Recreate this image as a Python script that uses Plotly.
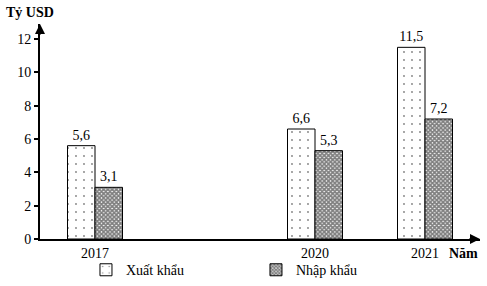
import plotly.graph_objects as go

years = ["2017", "2020", "2021"]
axis_slots = ["2017", " ", "2020", "2021"]  # blank slot between 2017 and 2020, as in the reference
export_vals = [5.6, 6.6, 11.5]
import_vals = [3.1, 5.3, 7.2]
series_names = ["Xuất khẩu", "Nhập khẩu"]
y_ticks = [0, 2, 4, 6, 8, 10, 12]

FONT = "Times New Roman, Liberation Serif, serif"

def fmt(v):
    return f"{v:.1f}".replace(".", ",")

fig = go.Figure()
fig.add_trace(go.Bar(
    x=years, y=export_vals, name=series_names[0],
    text=[fmt(v) for v in export_vals], textposition="outside",
    textfont=dict(family=FONT, size=14, color="black"),
    marker=dict(color="white", line=dict(color="black", width=1),
                pattern=dict(shape=".", fgcolor="black", bgcolor="white", size=8, solidity=0.04)),
    cliponaxis=False,
))
fig.add_trace(go.Bar(
    x=years, y=import_vals, name=series_names[1],
    text=[fmt(v) for v in import_vals], textposition="outside",
    textfont=dict(family=FONT, size=14, color="black"),
    marker=dict(color="white", line=dict(color="black", width=1),
                pattern=dict(shape="x", fgcolor="black", bgcolor="white", size=3, solidity=0.8)),
    cliponaxis=False,
))

fig.update_layout(
    width=487, height=286,
    margin=dict(l=40, r=7, t=24, b=47, autoexpand=False),
    paper_bgcolor="white", plot_bgcolor="white",
    barmode="group", bargap=0.5, bargroupgap=0,
    font=dict(family=FONT, size=14, color="black"),
    showlegend=True,
    legend=dict(orientation="h", x=0.1045, xanchor="left", y=-0.145, yanchor="middle",
                font=dict(family=FONT, size=14, color="black"),
                itemwidth=30, entrywidth=125, entrywidthmode="pixels",
                bgcolor="rgba(0,0,0,0)", traceorder="normal"),
    xaxis=dict(type="category", categoryorder="array", categoryarray=axis_slots,
               range=[-0.5, 3.5], tickvals=years, ticktext=years,
               showline=True, linecolor="black", linewidth=2, ticks="",
               showgrid=False, zeroline=False,
               tickfont=dict(family=FONT, size=14, color="black")),
    yaxis=dict(range=[0, 12.9], tickvals=y_ticks, showline=True, linecolor="black",
               linewidth=2, ticks="outside", ticklen=4, tickwidth=1.5, tickcolor="black",
               showgrid=False, zeroline=False,
               tickfont=dict(family=FONT, size=14, color="black")),
    annotations=[
        dict(text="<b>Tỷ USD</b>", xref="paper", yref="paper", x=-0.023, y=1.055,
             xanchor="center", yanchor="middle", showarrow=False,
             font=dict(family=FONT, size=14, color="black")),
        dict(text="<b>Năm</b>", xref="paper", yref="paper", x=1.0, y=-0.025,
             xanchor="right", yanchor="top", showarrow=False,
             font=dict(family=FONT, size=14, color="black")),
        dict(text="", xref="paper", yref="paper", x=1.0, y=0, ax=-12, ay=0,
             showarrow=True, arrowhead=2, arrowsize=1, arrowwidth=2, arrowcolor="black"),
        dict(text="", xref="paper", yref="paper", x=0, y=1.0, ax=0, ay=12,
             showarrow=True, arrowhead=2, arrowsize=1, arrowwidth=2, arrowcolor="black"),
    ],
)

fig.write_html("out.html")
